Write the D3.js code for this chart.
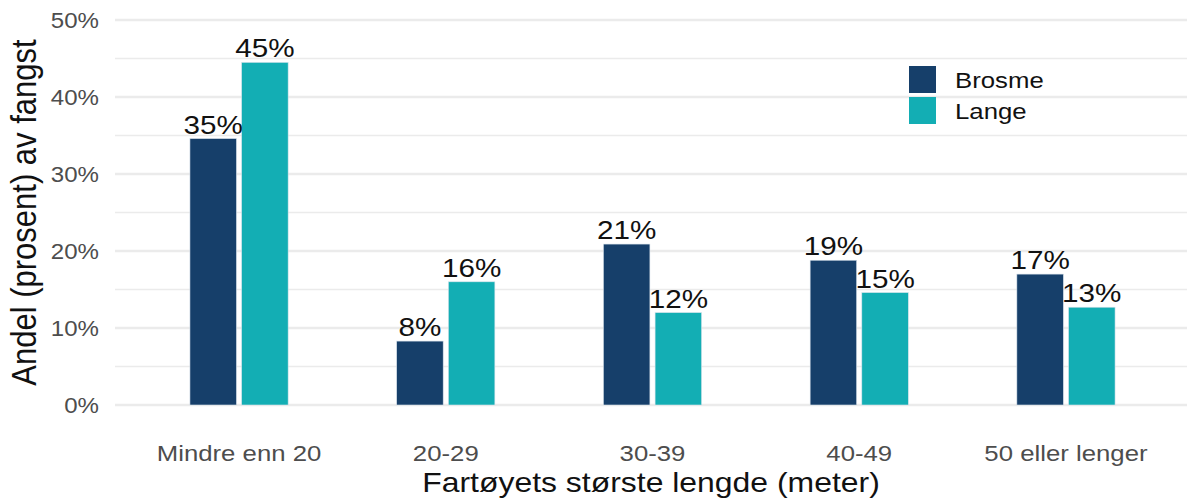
<!DOCTYPE html>
<html>
<head>
<meta charset="utf-8">
<script src="https://cdn.jsdelivr.net/npm/d3@7"></script>
<style>
  body { margin: 0; background: #fff; }
  svg { font-family: "Liberation Sans", Arial, sans-serif; }
</style>
</head>
<body>
<div id="chart"></div>
<script>
// data
const categories = ['Mindre enn 20', '20-29', '30-39', '40-49', '50 eller lenger'];
const seriesNames = ['Brosme', 'Lange'];
const brosme = [34.6, 8.3, 20.9, 18.8, 17.0];
const lange = [44.5, 16.0, 12.0, 14.6, 12.7];
const yTicks = [0, 10, 20, 30, 40, 50];

const width = 1187, height = 500;
const colors = ['#163f6a', '#13aeb4'];
const sx = 1.12; // the reference text is a bit wider than it is tall

const svg = d3.select('#chart').append('svg')
  .attr('width', width)
  .attr('height', height);

// ggplot style discrete scale: 0.6 expansion on each side
const n = categories.length;
const x0 = 115, x1 = 1190;
const unit = (x1 - x0) / (n - 1 + 1.2);
const x = d3.scalePoint().domain(categories).range([x0 + 0.6 * unit, x1 - 0.6 * unit]);
const xSub = d3.scaleBand().domain(seriesNames).range([-0.25 * unit, 0.25 * unit]).paddingInner(0.1).paddingOuter(0.05);

const y = d3.scaleLinear().domain([0, 50]).range([405, 20]);

// text helper, stretched sideways around its anchor point
function label(g, tx, ty, str, size, anchor, fill) {
  return g.append('text')
    .attr('transform', `translate(${tx}, ${ty}) scale(${sx}, 1)`)
    .attr('text-anchor', anchor)
    .attr('font-size', size)
    .attr('fill', fill)
    .text(str);
}

// grid lines, major and minor
const minor = d3.range(5, 50, 10);
svg.append('g').selectAll('line')
  .data(minor).enter().append('line')
  .attr('x1', x0).attr('x2', width)
  .attr('y1', d => y(d)).attr('y2', d => y(d))
  .attr('stroke', '#ebebeb').attr('stroke-width', 1.5);

svg.append('g').selectAll('line')
  .data(yTicks).enter().append('line')
  .attr('x1', x0).attr('x2', width)
  .attr('y1', d => y(d)).attr('y2', d => y(d))
  .attr('stroke', '#ebebeb').attr('stroke-width', 2.5);

// y tick labels
const yAxis = svg.append('g');
yTicks.forEach(t => label(yAxis, 99, y(t) + 8, t + '%', 21.5, 'end', '#4d4d4d'));

// x tick labels
const xAxis = svg.append('g');
categories.forEach(c => label(xAxis, x(c), 461, c, 23, 'middle', '#4d4d4d'));

// bars
const rows = categories.map((c, i) => ({ cat: c, vals: [brosme[i], lange[i]] }));
const groups = svg.append('g').selectAll('g')
  .data(rows).enter().append('g')
  .attr('transform', d => `translate(${x(d.cat)}, 0)`);

groups.selectAll('rect')
  .data(d => d.vals.map((v, j) => ({ s: seriesNames[j], v: v, j: j })))
  .enter().append('rect')
  .attr('x', d => xSub(d.s))
  .attr('width', xSub.bandwidth())
  .attr('y', d => y(d.v))
  .attr('height', d => y(0) - y(d.v))
  .attr('fill', d => colors[d.j])
  .attr('stroke', '#d9e3ec')
  .attr('stroke-width', 0.6);

groups.each(function (d) {
  const g = d3.select(this);
  d.vals.forEach((v, j) => {
    label(g, xSub(seriesNames[j]) + xSub.bandwidth() / 2, y(v) - 5, Math.round(v) + '%', 26.5, 'middle', '#111');
  });
});

// axis titles
label(svg, (x0 + width) / 2, 492, 'Fartøyets største lengde (meter)', 28.5, 'middle', '#111');

svg.append('text')
  .attr('transform', `translate(36, ${y(25)}) rotate(-90) scale(1, ${sx})`)
  .attr('text-anchor', 'middle')
  .attr('font-size', 31)
  .attr('fill', '#111')
  .text('Andel (prosent) av fangst');

// legend
const legend = svg.append('g').attr('transform', 'translate(909, 66)');
seriesNames.forEach((s, i) => {
  legend.append('rect')
    .attr('x', 0).attr('y', i * 31)
    .attr('width', 27).attr('height', 27)
    .attr('fill', colors[i]);
  label(legend, 46, i * 31 + 22, s, 23, 'start', '#111');
});
</script>
</body>
</html>
